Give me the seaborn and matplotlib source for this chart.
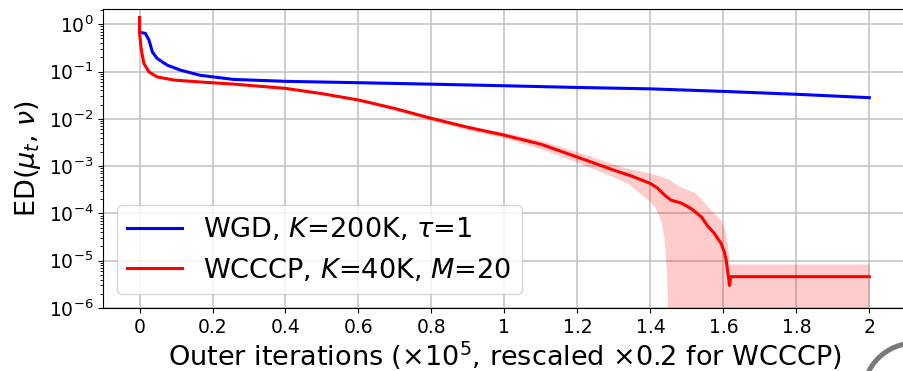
import numpy as np
import pandas as pd
import matplotlib
matplotlib.use("Agg")
import matplotlib.pyplot as plt
from matplotlib.patches import Circle
from matplotlib.transforms import IdentityTransform
import seaborn as sns

# WGD (blue) curve
wgd_x = [0.003, 0.016, 0.026, 0.035, 0.048, 0.076, 0.112, 0.167, 0.258, 0.4, 0.6,
         0.8, 1.0, 1.2, 1.4, 1.6, 1.8, 2.0]
wgd_y = [0.67, 0.64, 0.46, 0.26, 0.19, 0.136, 0.107, 0.083, 0.068, 0.062, 0.058,
         0.054, 0.05, 0.046, 0.043, 0.038, 0.033, 0.028]

# WCCCP (red) mean curve
wcccp_x = [0.0, 0.0, 0.005, 0.012, 0.026, 0.048, 0.094, 0.167, 0.26, 0.4, 0.5,
           0.6, 0.7, 0.8, 0.9, 1.0, 1.1, 1.2, 1.3, 1.35, 1.4, 1.42, 1.44, 1.457,
           1.485, 1.512, 1.54, 1.557, 1.575, 1.594, 1.603, 1.608, 1.613, 1.617,
           1.62, 1.7, 1.8, 1.9, 2.0]
wcccp_y = [1.39, 0.64, 0.28, 0.147, 0.098, 0.077, 0.066, 0.06, 0.054, 0.044, 0.034,
           0.025, 0.0165, 0.0102, 0.0066, 0.0045, 0.0029, 0.00155, 8.2e-4, 6.1e-4,
           4.3e-4, 3.4e-4, 2.4e-4, 1.9e-4, 1.65e-4, 1.26e-4, 8.4e-5, 5.4e-5, 3.8e-5,
           2.3e-5, 1.5e-5, 1e-5, 5e-6, 3e-6, 4.6e-6, 4.6e-6, 4.6e-6, 4.6e-6, 4.6e-6]

# WCCCP spread band
band_x = [0.55, 0.6, 0.8, 0.9, 1.0, 1.1, 1.2, 1.3, 1.34, 1.373, 1.395, 1.411,
          1.423, 1.43, 1.436, 1.439, 1.442, 1.444, 1.446, 1.448, 1.484, 1.521,
          1.54, 1.557, 1.575, 1.594, 1.604, 1.612, 1.616, 1.7, 1.8, 1.9, 2.0]
band_hi = [0.031, 0.0262, 0.0112, 0.0072, 0.0052, 0.0035, 0.002, 0.0011, 8.9e-4,
           7.9e-4, 7.2e-4, 6.7e-4, 6.3e-4, 6.0e-4, 5.8e-4, 5.7e-4, 5.6e-4, 5.5e-4,
           5.45e-4, 5.4e-4, 3.6e-4, 2.8e-4, 2e-4, 1.4e-4, 1e-4, 7.2e-5, 4.5e-5,
           2e-5, 8.5e-6, 8.5e-6, 8.5e-6, 8.5e-6, 8.5e-6]
band_lo = [0.029, 0.0238, 0.0093, 0.0058, 0.0039, 0.0023, 0.0012, 5.9e-4, 4.2e-4,
           2.6e-4, 1.9e-4, 1.4e-4, 9e-5, 6.2e-5, 3.5e-5, 2e-5, 1e-5, 6.3e-6, 2e-6,
           1e-8, 1e-8, 1e-8, 1e-8, 1e-8, 1e-8, 1e-8, 1e-8, 1e-8, 1e-8, 1e-8, 1e-8,
           1e-8, 1e-8]

xtick_vals = [0, 0.2, 0.4, 0.6, 0.8, 1.0, 1.2, 1.4, 1.6, 1.8, 2.0]
xtick_labels = ['0', '0.2', '0.4', '0.6', '0.8', '1', '1.2', '1.4', '1.6', '1.8', '2']

wgd = pd.DataFrame({'x': wgd_x, 'y': wgd_y})
wcccp = pd.DataFrame({'x': wcccp_x, 'y': wcccp_y})

fig = plt.figure(figsize=(9.04, 3.71), dpi=100)
ax = fig.add_axes([0.114, 0.1698, 0.888, 0.806])

ax.fill_between(band_x, band_lo, band_hi, color='red', alpha=0.2, linewidth=0)
sns.lineplot(data=wgd, x='x', y='y', ax=ax, color='blue', lw=2.2, sort=False,
             estimator=None, label=r'WGD, $K$=200K, $\tau$=1')
sns.lineplot(data=wcccp, x='x', y='y', ax=ax, color='red', lw=2.2, sort=False,
             estimator=None, label=r'WCCCP, $K$=40K, $M$=20')

ax.set_yscale('log')
ax.set_xlim(-0.1, 2.1)
ax.set_ylim(1e-6, 2.1)
ax.set_yticks([1e0, 1e-1, 1e-2, 1e-3, 1e-4, 1e-5, 1e-6])
ax.set_xticks(xtick_vals)
ax.set_xticklabels(xtick_labels)
ax.tick_params(labelsize=13.5)
ax.grid(True, which='major', color='#c0c0c0', lw=1.1)
ax.set_axisbelow(True)

ax.set_xlabel(r'Outer iterations ($\times 10^5$, rescaled $\times 0.2$ for WCCCP)',
              fontsize=19.5, labelpad=2)
ax.set_ylabel(r'ED($\mu_t$, $\nu$)', fontsize=19.5)
ax.legend(loc='lower left', fontsize=19.5)

# grey ring in the bottom-right corner
fig.add_artist(Circle((915, 371 - 395), 52, transform=IdentityTransform(),
                      fill=False, edgecolor='#7a7a7a', lw=3.6, clip_on=False))

fig.savefig('out.png', dpi=100)
